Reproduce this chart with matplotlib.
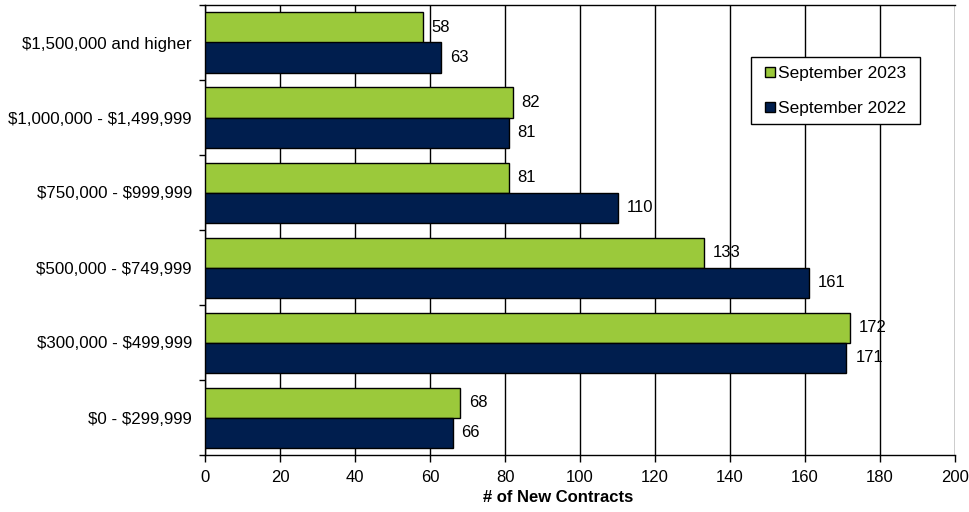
import matplotlib
matplotlib.use("Agg")
import matplotlib.pyplot as plt
from matplotlib.patches import Rectangle
import numpy as np

plt.rcParams['font.family'] = ['Liberation Sans', 'DejaVu Sans']

categories = ["$0 - $299,999", "$300,000 - $499,999", "$500,000 - $749,999",
              "$750,000 - $999,999", "$1,000,000 - $1,499,999", "$1,500,000 and higher"]
sep_2023 = [68, 172, 133, 81, 82, 58]
sep_2022 = [66, 171, 161, 110, 81, 63]
x_ticks = [0, 20, 40, 60, 80, 100, 120, 140, 160, 180, 200]

green = "#9BC93B"
navy = "#001E4E"

W, H = 969, 512
fig = plt.figure(figsize=(W / 100, H / 100), dpi=100)
ax = fig.add_axes([205 / W, 1 - 455 / H, 750 / W, 450 / H])

y = np.arange(len(categories))
h = 0.4
b1 = ax.barh(y + h / 2, sep_2023, height=h, color=green, edgecolor="black",
             linewidth=1, label="September 2023", zorder=3)
b2 = ax.barh(y - h / 2, sep_2022, height=h, color=navy, edgecolor="black",
             linewidth=1, label="September 2022", zorder=3)

for bars, vals in ((b1, sep_2023), (b2, sep_2022)):
    for bar, v in zip(bars, vals):
        ax.annotate(str(v), (v, bar.get_y() + bar.get_height() / 2),
                    xytext=(9, 0), textcoords="offset pixels",
                    ha="left", va="center", fontsize=12, color="black")

ax.set_xlim(0, 200)
ax.set_ylim(-0.5, len(categories) - 0.5)
ax.set_xticks(x_ticks)
ax.set_xticklabels([str(t) for t in x_ticks], fontsize=12)
ax.set_yticks(y)
ax.set_yticklabels(categories, fontsize=12.2, parse_math=False)
ax.tick_params(axis="y", which="major", length=0, pad=9.5)
ax.set_yticks(np.arange(-0.5, len(categories), 1.0), minor=True)
ax.tick_params(axis="y", which="minor", length=4, width=1, direction="out")
ax.tick_params(axis="x", length=5, width=1, direction="out", pad=6)

ax.grid(axis="x", color="black", linewidth=1, zorder=0)
for s in ("left", "bottom", "top"):
    ax.spines[s].set_color("black")
    ax.spines[s].set_linewidth(1)
ax.spines["right"].set_visible(False)

fig.text(558 / W, 1 - 498 / H, "# of New Contracts", ha="center", va="center",
         fontsize=12, fontweight="bold")

# legend box drawn as a patch, entries placed on top without a frame
ax.add_patch(Rectangle((751 / W, 1 - 124 / H), 169 / W, 67 / H,
                       transform=fig.transFigure, facecolor="white",
                       edgecolor="black", linewidth=1, zorder=5, clip_on=False))
leg = ax.legend(loc="upper left", bbox_to_anchor=(765 / W, 1 - 66 / H),
                bbox_transform=fig.transFigure, borderaxespad=0,
                fontsize=12.5, frameon=False, handlelength=0.55, handleheight=0.55,
                handletextpad=0.17, labelspacing=1.15, borderpad=0)
leg.set_zorder(6)

fig.savefig("out.png", dpi=100)
